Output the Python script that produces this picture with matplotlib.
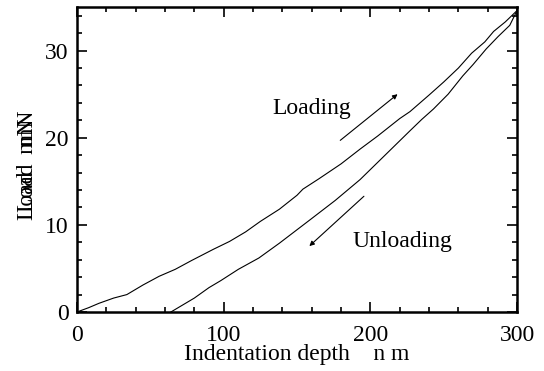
import numpy as np
import matplotlib.pyplot as plt
from matplotlib.ticker import MultipleLocator

# loading curve (nm, mN)
load_depth = [0, 8, 15, 25, 34, 45, 56, 67, 78, 93, 104, 115, 125, 138, 150, 154,
              165, 180, 193, 205, 220, 227, 240, 250, 260, 269, 278, 284, 292, 300]
load_force = [0, 0.5, 1.0, 1.6, 2.0, 3.1, 4.1, 4.9, 5.9, 7.2, 8.1, 9.2, 10.4, 11.8, 13.4, 14.1,
              15.3, 17.0, 18.7, 20.2, 22.2, 23.0, 24.9, 26.4, 28.0, 29.7, 31.0, 32.2, 33.3, 34.6]

# unloading curve, from top down
unload_depth = [300, 295, 287, 279, 270, 263, 253, 243, 235, 227, 210, 193, 176, 159,
                152, 138, 124, 110, 98, 90, 80, 72, 64]
unload_force = [34.6, 32.9, 31.6, 30.2, 28.4, 27.1, 25.0, 23.3, 22.1, 20.8, 18.0, 15.2, 12.8, 10.6,
                9.7, 7.9, 6.2, 4.9, 3.6, 2.8, 1.6, 0.8, 0]

plt.rcParams['font.family'] = ['Liberation Serif', 'DejaVu Serif']
plt.rcParams['font.size'] = 17

fig = plt.figure(figsize=(5.44, 3.71), dpi=100)
ax = fig.add_axes([0.1415, 0.159, 0.809, 0.822])

ax.plot(load_depth, load_force, color='black', lw=0.8)
ax.plot(unload_depth, unload_force, color='black', lw=0.8)

ax.set_xlim(0, 300)
ax.set_ylim(0, 35)
ax.xaxis.set_major_locator(MultipleLocator(100))
ax.xaxis.set_minor_locator(MultipleLocator(20))
ax.yaxis.set_major_locator(MultipleLocator(10))
ax.yaxis.set_minor_locator(MultipleLocator(2))
ax.tick_params(which='both', direction='in', top=True, right=True, width=1.2)
ax.tick_params(which='major', length=7)
ax.tick_params(which='minor', length=3.5)
ax.tick_params(axis='x', pad=9)
ax.tick_params(axis='y', pad=6)
for s in ax.spines.values():
    s.set_linewidth(1.8)

ax.set_xlabel('Indentation depth    n m', labelpad=-1)

# y label drawn twice, slightly shifted, as in the picture
fig.text(0.05, 0.565, 'Load   mN', rotation=90, ha='center', va='center')
fig.text(0.05, 0.545, 'Load   mN', rotation=90, ha='center', va='center')

ax.annotate('', xy=(220, 25.2), xytext=(178, 19.5),
            arrowprops=dict(arrowstyle='-|>', color='black', lw=0.8, mutation_scale=7))
ax.annotate('', xy=(157, 7.35), xytext=(197, 13.5),
            arrowprops=dict(arrowstyle='-|>', color='black', lw=0.8, mutation_scale=7))
ax.text(160, 23.3, 'Loading', ha='center', va='center')
ax.text(222, 8.1, 'Unloading', ha='center', va='center')

fig.savefig('out.png', dpi=100)
